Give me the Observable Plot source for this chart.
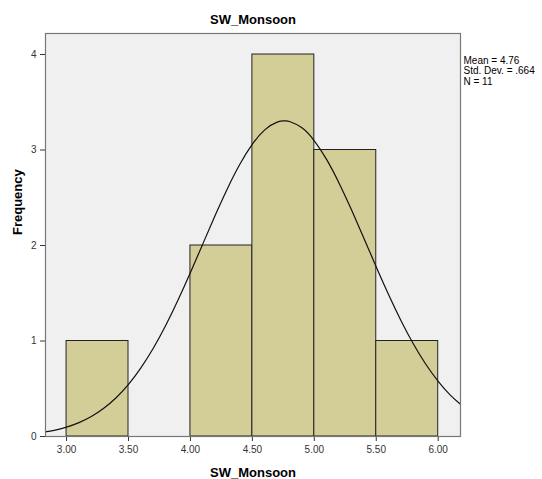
<!DOCTYPE html>
<html>
<head>
<meta charset="utf-8">
<script src="https://cdn.jsdelivr.net/npm/d3@7"></script>
<script src="https://cdn.jsdelivr.net/npm/@observablehq/plot@0.6"></script>
<style>
  body { margin: 0; background: #fff; }
</style>
</head>
<body>
<div id="chart"></div>
<script>
const title = "SW_Monsoon";
const xLabel = "SW_Monsoon";
const yLabel = "Frequency";
const binStart = [3.0, 3.5, 4.0, 4.5, 5.0, 5.5];
const binEnd = [3.5, 4.0, 4.5, 5.0, 5.5, 6.0];
const counts = [1, 0, 2, 4, 3, 1];
const xTicks = [3.0, 3.5, 4.0, 4.5, 5.0, 5.5, 6.0];
const yTicks = [0, 1, 2, 3, 4];
const statsLines = ["Mean = 4.76", "Std. Dev. = .664", "N = 11"];
// normal curve (Mean 4.76, SD .664, N 11, bin width .5)
const curveX = [2.8, 2.9, 3.0, 3.1, 3.2, 3.3, 3.4, 3.5, 3.6, 3.7, 3.8, 3.9, 4.0, 4.1, 4.2, 4.3, 4.4, 4.5, 4.6, 4.7, 4.76, 4.8, 4.9, 5.0, 5.1, 5.2, 5.3, 5.4, 5.5, 5.6, 5.7, 5.8, 5.9, 6.0, 6.1, 6.2];
const curveY = [0.042, 0.065, 0.098, 0.145, 0.209, 0.295, 0.406, 0.546, 0.719, 0.924, 1.162, 1.429, 1.717, 2.017, 2.316, 2.600, 2.853, 3.061, 3.211, 3.292, 3.305, 3.299, 3.232, 3.096, 2.899, 2.653, 2.374, 2.077, 1.776, 1.485, 1.213, 0.969, 0.757, 0.578, 0.431, 0.315];

const bins = binStart.map((s, i) => ({x1: s, x2: binEnd[i], y: counts[i]})).filter(d => d.y > 0);
const curve = curveX.map((x, i) => ({x, y: curveY[i]}));

const plot = Plot.plot({
  width: 542,
  height: 479,
  marginLeft: 45,
  marginRight: 82,
  marginTop: 33,
  marginBottom: 43,
  style: {fontFamily: "Arial, 'Liberation Sans', sans-serif", fontSize: "10px", background: "#fff", color: "#333"},
  x: {domain: [2.83, 6.18], ticks: xTicks, tickFormat: d3.format(".2f"), label: null, tickSize: 5},
  y: {domain: [0, 4.22], ticks: yTicks, tickFormat: d3.format("d"), label: null, tickSize: 5},
  marks: [
    Plot.frame({fill: "#f0f0f0", stroke: null}),
    Plot.rect(bins, {x1: "x1", x2: "x2", y1: 0, y2: "y", fill: "#d3ce98", stroke: "#222", strokeWidth: 1}),
    Plot.line(curve, {x: "x", y: "y", curve: "natural", stroke: "#111", strokeWidth: 1.2, clip: true}),
    Plot.frame({stroke: "#777", strokeWidth: 1.2}),
    Plot.text([title], {frameAnchor: "top", dy: -19, fontSize: 13, fontWeight: "bold", fill: "#000"}),
    Plot.text([xLabel], {frameAnchor: "bottom", dy: 40, fontSize: 13, fontWeight: "bold", fill: "#000"}),
    Plot.text([yLabel], {frameAnchor: "left", dx: -28, rotate: -90, fontSize: 13, fontWeight: "bold", fill: "#000"}),
    Plot.text([statsLines.join("\n")], {frameAnchor: "top-right", dx: 3, dy: 23, lineAnchor: "top", lineHeight: 1.05, textAnchor: "start", fontSize: 10, fill: "#000"})
  ]
});
document.getElementById("chart").appendChild(plot);
</script>
</body>
</html>
